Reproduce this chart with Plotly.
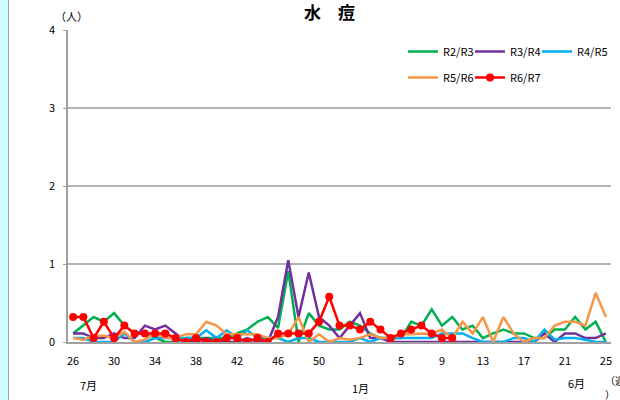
import plotly.graph_objects as go

weeks = [str(w) for w in list(range(26, 54)) + list(range(1, 26))]
tick_weeks = ["26", "30", "34", "38", "42", "46", "50", "1", "5", "9", "13", "17", "21", "25"]

r2_r3 = [0.11, 0.21, 0.32, 0.26, 0.37, 0.21, 0.11, 0.11, 0.05, 0.0,
         0.0, 0.05, 0.05, 0.05, 0.05, 0.05, 0.11, 0.16, 0.26, 0.32,
         0.18, 0.91, 0.0, 0.37, 0.21, 0.16, 0.16, 0.26, 0.21, 0.11,
         0.05, 0.05, 0.05, 0.26, 0.21, 0.42, 0.21, 0.32, 0.16, 0.21,
         0.05, 0.11, 0.16, 0.11, 0.11, 0.05, 0.05, 0.16, 0.16, 0.32,
         0.16, 0.26, 0.0]
r3_r4 = [0.11, 0.11, 0.05, 0.05, 0.11, 0.05, 0.05, 0.21, 0.16, 0.21,
         0.11, 0.0, 0.0, 0.05, 0.0, 0.0, 0.0, 0.05, 0.0, 0.0,
         0.32, 1.05, 0.32, 0.89, 0.32, 0.21, 0.05, 0.21, 0.37, 0.05,
         0.05, 0.0, 0.0, 0.0, 0.0, 0.0, 0.0, 0.0, 0.0, 0.0,
         0.0, 0.0, 0.0, 0.0, 0.0, 0.0, 0.11, 0.0, 0.11, 0.11,
         0.05, 0.05, 0.11]
r4_r5 = [0.05, 0.05, 0.0, 0.0, 0.0, 0.11, 0.0, 0.0, 0.05, 0.05,
         0.05, 0.05, 0.05, 0.15, 0.05, 0.15, 0.05, 0.15, 0.05, 0.05,
         0.05, 0.0, 0.05, 0.05, 0.0, 0.0, 0.0, 0.0, 0.05, 0.0,
         0.05, 0.05, 0.05, 0.05, 0.05, 0.05, 0.11, 0.11, 0.11, 0.05,
         0.0, 0.0, 0.0, 0.05, 0.05, 0.0, 0.16, 0.03, 0.05, 0.05,
         0.03, 0.0, 0.0]
r5_r6 = [0.05, 0.03, 0.08, 0.08, 0.05, 0.13, 0.0, 0.03, 0.11, 0.05,
         0.05, 0.1, 0.1, 0.26, 0.21, 0.1, 0.1, 0.1, 0.1, 0.05,
         0.05, 0.1, 0.32, 0.0, 0.1, 0.0, 0.05, 0.03, 0.05, 0.1,
         0.05, 0.05, 0.1, 0.1, 0.11, 0.1, 0.16, 0.05, 0.26, 0.11,
         0.32, 0.0, 0.32, 0.11, 0.0, 0.05, 0.05, 0.21, 0.26, 0.26,
         0.21, 0.63, 0.32]
r6_r7 = [0.32, 0.32, 0.05, 0.26, 0.05, 0.21, 0.11, 0.11, 0.11, 0.11,
         0.05, 0.0, 0.05, 0.0, 0.0, 0.05, 0.05, 0.0, 0.05, 0.0,
         0.11, 0.11, 0.11, 0.11, 0.26, 0.58, 0.21, 0.21, 0.16, 0.26,
         0.16, 0.05, 0.11, 0.16, 0.21, 0.11, 0.05, 0.05]

series = [
    ("R2/R3", r2_r3, "#00B050", "legend", None),
    ("R3/R4", r3_r4, "#7030A0", "legend", None),
    ("R4/R5", r4_r5, "#00B0F0", "legend", 30),
    ("R5/R6", r5_r6, "#F79646", "legend2", None),
]

FONT = "Noto Sans CJK JP"
fig = go.Figure()
for name, vals, col, leg, lw in series:
    fig.add_trace(go.Scatter(x=weeks[:len(vals)], y=vals, name=name, mode="lines",
                             legend=leg, legendwidth=lw, line=dict(color=col, width=2.5)))
fig.add_trace(go.Scatter(x=weeks[:len(r6_r7)], y=r6_r7, name="R6/R7", mode="lines+markers",
                         legend="legend2", legendwidth=40,
                         line=dict(color="#FF0000", width=2.5),
                         marker=dict(color="#FF0000", size=8)))

L, R, T, B = 68, 9, 30, 58
W, H = 620, 400
pw = W - L - R
ph = H - T - B


def px(x):
    return (x - L) / pw


def py(y):
    return (H - B - y) / ph


legend_common = dict(orientation="h", xanchor="left", yanchor="top",
                     bgcolor="rgba(0,0,0,0)", font=dict(size=11, family=FONT),
                     entrywidth=22, entrywidthmode="pixels", itemwidth=30)

fig.update_layout(
    width=W, height=H,
    margin=dict(l=L, r=R, t=T, b=B, autoexpand=False),
    paper_bgcolor="white", plot_bgcolor="white",
    font=dict(family=FONT, size=11, color="#000000"),
    showlegend=True,
    legend=dict(x=px(403), y=py(37), **legend_common),
    legend2=dict(x=px(403), y=py(63), **legend_common),
    xaxis=dict(type="category", categoryorder="array", categoryarray=weeks,
               range=[-0.5, len(weeks) - 0.5], tickmode="array", tickvals=tick_weeks,
               ticktext=tick_weeks, showgrid=False, showline=True, linecolor="#A0A0A0",
               linewidth=1.5, ticks="", ticklabelstandoff=8, tickfont=dict(size=11),
               zeroline=False),
    yaxis=dict(range=[0, 4], dtick=1, showgrid=True, gridcolor="#B4B4B4", gridwidth=1.5,
               showline=True, linecolor="#A0A0A0", linewidth=1.5, ticks="outside",
               ticklen=3, tickcolor="#A0A0A0", ticklabelstandoff=6, zeroline=False,
               tickfont=dict(size=11)),
    shapes=[
        dict(type="rect", xref="paper", yref="paper", x0=px(0), x1=px(8),
             y0=py(H), y1=py(0), fillcolor="#CCFFFF",
             line=dict(width=0), layer="below"),
        dict(type="line", xref="paper", yref="paper", x0=px(8.5), x1=px(8.5),
             y0=py(H), y1=py(0), line=dict(color="#A0A0A0", width=1)),
    ],
    annotations=[
        dict(text="<b>水　痘</b>", x=px(329), y=py(12), xref="paper", yref="paper",
             xanchor="center", yanchor="middle", showarrow=False,
             font=dict(size=17, family=FONT)),
        dict(text="（人）", x=px(71), y=py(16), xref="paper", yref="paper",
             xanchor="center", yanchor="middle", showarrow=False,
             font=dict(size=11, family=FONT)),
        dict(text="7月", x=px(88), y=py(385), xref="paper", yref="paper",
             xanchor="center", yanchor="middle", showarrow=False,
             font=dict(size=11, family=FONT)),
        dict(text="1月", x=px(360), y=py(388), xref="paper", yref="paper",
             xanchor="center", yanchor="middle", showarrow=False,
             font=dict(size=11, family=FONT)),
        dict(text="6月", x=px(576), y=py(383), xref="paper", yref="paper",
             xanchor="center", yanchor="middle", showarrow=False,
             font=dict(size=11, family=FONT)),
        dict(text="（週", x=px(603), y=py(380), xref="paper", yref="paper",
             xanchor="left", yanchor="middle", showarrow=False,
             font=dict(size=10, family=FONT)),
        dict(text="）", x=px(603), y=py(394), xref="paper", yref="paper",
             xanchor="left", yanchor="middle", showarrow=False,
             font=dict(size=10, family=FONT)),
    ],
)

fig.write_html("out.html", config={"displayModeBar": False},
               post_script="document.body.style.margin='0';")
